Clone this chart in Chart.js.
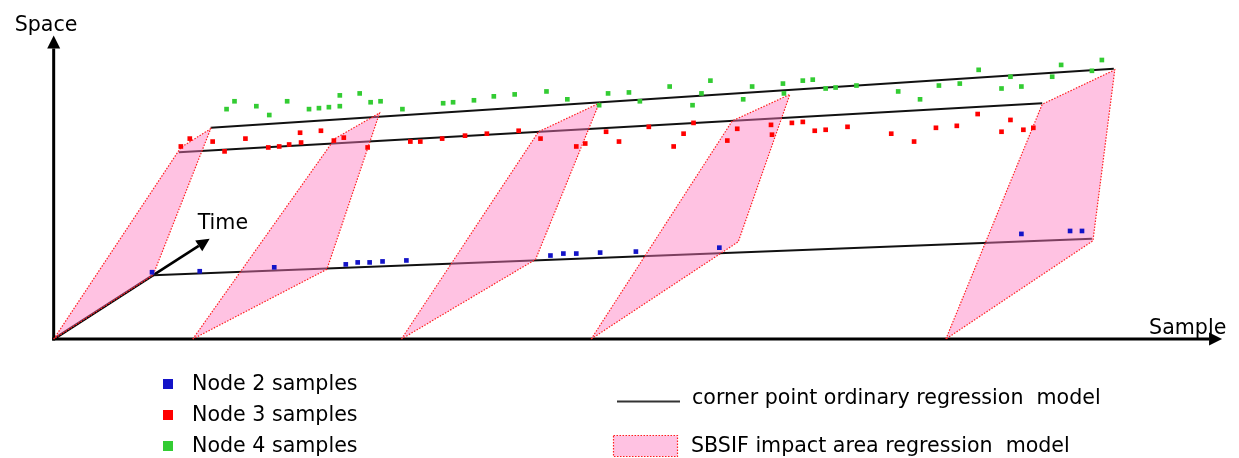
<!DOCTYPE html>
<html>
<head>
<meta charset="utf-8">
<script src="https://cdn.jsdelivr.net/npm/chart.js@4.4.0/dist/chart.umd.min.js"></script>
<style>
  html, body { margin: 0; padding: 0; background: #fff; }
  .chart-box { position: relative; width: 1239px; height: 458px; }
</style>
</head>
<body>
<div class="chart-box"><canvas id="chart"></canvas></div>
<script>
// x = sample, y = space (origin at the axes corner)
const node2Sample = [99, 147, 222, 294, 306, 318, 331, 355, 500, 513, 526, 550, 586, 670, 974, 1023, 1035]
const node2Space  = [68, 69, 73, 76, 78, 78, 79, 80, 85, 87, 87, 88, 89, 93, 107, 110, 110]

const node3Sample = [128, 137, 160, 172, 193, 216, 227, 237, 248, 249, 269, 282, 292, 316, 359, 369, 391, 414, 436, 468,
  490, 526, 535, 556, 569, 599, 624, 634, 644, 678, 688, 722, 723, 743, 754, 766, 777, 799, 843, 866,
  888, 909, 930, 954, 963, 976, 986]
const node3Space  = [196, 204, 201, 191, 204, 195, 196, 198, 210, 200, 212, 202, 205, 195, 201, 201, 204, 207, 209, 212,
  204, 196, 199, 211, 201, 216, 196, 209, 220, 202, 214, 218, 208, 220, 221, 212, 213, 216, 209, 201,
  215, 217, 229, 211, 223, 213, 215]

const node4Sample = [174, 182, 204, 217, 235, 257, 267, 277, 288, 288, 308, 319, 329, 351, 392, 402, 423, 443, 464, 496,
  517, 549, 558, 579, 590, 620, 643, 652, 661, 694, 703, 734, 735, 754, 764, 777, 787, 808, 850, 872,
  891, 912, 931, 954, 963, 974, 1005, 1014, 1045, 1055]
const node4Space  = [234, 242, 237, 228, 242, 234, 235, 236, 248, 237, 250, 241, 242, 234, 240, 241, 243, 247, 249, 252,
  244, 238, 250, 251, 242, 257, 238, 250, 263, 244, 257, 260, 250, 263, 264, 255, 256, 258, 252, 244,
  258, 260, 274, 255, 267, 257, 267, 279, 273, 284]

// corner point regression lines (start / end)
const line2Sample = [100, 1045], line2Space = [65, 102]
const line3Sample = [126, 995],  line3Space = [190, 240]
const line4Sample = [158, 1067], line4Space = [215, 275]

// SBSIF impact areas: bottom, node 3 corner, node 4 corner, node 2 corner
const areaSample = [
  [0, 128, 158, 100],
  [140, 283, 328, 275],
  [350, 488, 549, 485],
  [541, 683, 741, 689],
  [898, 995, 1068, 1046]
]
const areaSpace = [
  [0, 195, 214, 65],
  [0, 204, 230, 71],
  [0, 211, 240, 81],
  [0, 222, 249, 99],
  [0, 239, 274, 100]
]

// axis extents
const sampleAxisEnd = 1176
const spaceAxisEnd = 309
const timeAxisEnd = { x: 157, y: 102 }

const legendNodes = ['Node 2 samples', 'Node 3 samples', 'Node 4 samples']
const legendModels = ['corner point ordinary regression  model', 'SBSIF impact area regression  model']

const colors = {
  node2: '#1414c8',
  node3: '#ff0000',
  node4: '#33cc33',
  line: '#111111',
  areaFill: 'rgba(255, 120, 190, 0.45)',
  areaEdge: '#ff2020'
}

const FONT = '20.6px "DejaVu Sans", Verdana, sans-serif'

const zip = (xs, ys) => xs.map((x, i) => ({ x, y: ys[i] }))

function pointSet(label, xs, ys, color) {
  return {
    label,
    data: zip(xs, ys),
    showLine: false,
    pointStyle: 'rect',
    pointRadius: 3.3,
    backgroundColor: color,
    borderWidth: 0,
    order: 0
  }
}

function lineSet(xs, ys) {
  return {
    data: zip(xs, ys),
    showLine: true,
    pointRadius: 0,
    borderColor: colors.line,
    borderWidth: 2,
    fill: false,
    order: 2
  }
}

function areaSet(xs, ys) {
  const pts = zip(xs, ys)
  pts.push(pts[0])
  return {
    data: pts,
    showLine: true,
    pointRadius: 0,
    borderColor: colors.areaEdge,
    borderWidth: 1.2,
    borderDash: [1.5, 1.5],
    backgroundColor: colors.areaFill,
    fill: 'shape',
    tension: 0,
    order: 1
  }
}

function arrow(ctx, x1, y1, x2, y2, width, headLen, headHalf) {
  const a = Math.atan2(y2 - y1, x2 - x1)
  const bx = x2 - headLen * Math.cos(a), by = y2 - headLen * Math.sin(a)
  ctx.save()
  ctx.strokeStyle = '#000'
  ctx.fillStyle = '#000'
  ctx.lineWidth = width
  ctx.beginPath()
  ctx.moveTo(x1, y1)
  ctx.lineTo(bx, by)
  ctx.stroke()
  ctx.beginPath()
  ctx.moveTo(x2, y2)
  ctx.lineTo(bx + headHalf * Math.sin(a), by - headHalf * Math.cos(a))
  ctx.lineTo(bx - headHalf * Math.sin(a), by + headHalf * Math.cos(a))
  ctx.closePath()
  ctx.fill()
  ctx.restore()
}

const axesPlugin = {
  id: 'axesArrows',
  beforeDatasetsDraw(chart) {
    const { ctx, scales: { x, y } } = chart
    const ox = x.getPixelForValue(0), oy = y.getPixelForValue(0)
    const sx = x.getPixelForValue(sampleAxisEnd)
    const sy = y.getPixelForValue(spaceAxisEnd)
    const tx = x.getPixelForValue(timeAxisEnd.x), ty = y.getPixelForValue(timeAxisEnd.y)

    arrow(ctx, ox, oy + 1.5, ox, sy, 3, 13, 6.5)
    arrow(ctx, ox - 1.5, oy, sx, oy, 3, 13, 6.5)
    arrow(ctx, ox, oy, tx, ty, 2.6, 13, 6.5)

    ctx.save()
    ctx.fillStyle = '#000'
    ctx.font = FONT
    ctx.textBaseline = 'alphabetic'
    ctx.fillText('Space', ox - 39, sy - 4)
    ctx.fillText('Sample', sx - 73, oy - 5)
    ctx.fillText('Time', tx - 12, ty - 10)
    ctx.restore()
  },
  afterDraw(chart) {
    const { ctx } = chart
    const nodeColors = [colors.node2, colors.node3, colors.node4]
    ctx.save()
    ctx.font = FONT
    ctx.textBaseline = 'alphabetic'
    legendNodes.forEach((txt, i) => {
      const base = 390 + i * 31
      ctx.fillStyle = nodeColors[i]
      ctx.fillRect(163, base - 11, 10, 10)
      ctx.fillStyle = '#000'
      ctx.fillText(txt, 192, base)
    })

    ctx.strokeStyle = '#333'
    ctx.lineWidth = 2
    ctx.beginPath()
    ctx.moveTo(617, 401.5)
    ctx.lineTo(680, 401.5)
    ctx.stroke()
    ctx.fillStyle = '#000'
    ctx.fillText(legendModels[0], 692, 404)

    ctx.fillStyle = colors.areaFill
    ctx.fillRect(613.5, 435.5, 64, 21)
    ctx.strokeStyle = colors.areaEdge
    ctx.lineWidth = 1.2
    ctx.setLineDash([1.5, 1.5])
    ctx.strokeRect(613.5, 435.5, 64, 21)
    ctx.setLineDash([])
    ctx.fillStyle = '#000'
    ctx.fillText(legendModels[1], 691, 452)
    ctx.restore()
  }
}

const datasets = [
  pointSet('Node 2 samples', node2Sample, node2Space, colors.node2),
  pointSet('Node 3 samples', node3Sample, node3Space, colors.node3),
  pointSet('Node 4 samples', node4Sample, node4Space, colors.node4),
  ...areaSample.map((xs, i) => areaSet(xs, areaSpace[i])),
  lineSet(line2Sample, line2Space),
  lineSet(line3Sample, line3Space),
  lineSet(line4Sample, line4Space)
]

new Chart(document.getElementById('chart'), {
  type: 'scatter',
  data: { datasets },
  options: {
    responsive: true,
    maintainAspectRatio: false,
    animation: false,
    events: [],
    layout: { padding: 0 },
    plugins: {
      legend: { display: false },
      tooltip: { enabled: false }
    },
    scales: {
      x: { type: 'linear', display: false, min: -50, max: 1189 },
      y: { type: 'linear', display: false, min: -117, max: 341 }
    }
  },
  plugins: [axesPlugin]
})
</script>
</body>
</html>
